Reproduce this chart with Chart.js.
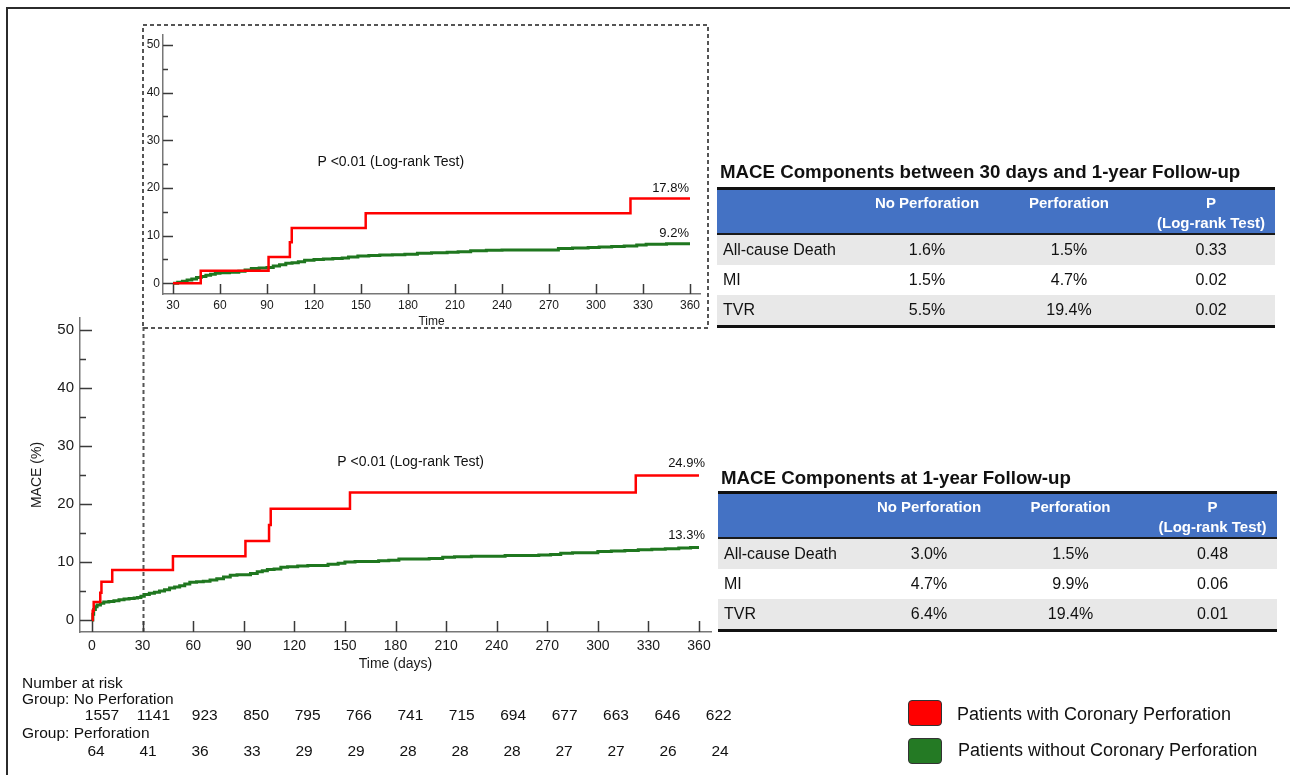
<!DOCTYPE html>
<html lang="en">
<head>
<meta charset="UTF-8">
<title>MACE: Coronary Perforation vs No Perforation</title>
<script src="https://cdn.jsdelivr.net/npm/chart.js"></script>
<style>
  body { margin: 0; background: #fff; font-family: "Liberation Sans", Arial, sans-serif; color: #111; }
  #page { position: relative; width: 1290px; height: 775px; overflow: hidden; }
  #frame { position: absolute; left: 6px; top: 7px; width: 1300px; height: 800px; border-top: 2px solid #2b2b2b; border-left: 2px solid #2b2b2b; }
  canvas { position: absolute; }
  #mainChart { left: 0; top: 300px; }
  #insetChart { left: 143px; top: 25px; }
  #box { position: absolute; left: 0; top: 0; pointer-events: none; }
  .ttl { position: absolute; font-weight: bold; font-size: 18.7px; line-height: 22px; white-space: nowrap; }
  table.mace { position: absolute; border-collapse: separate; border-spacing: 0; table-layout: fixed;
    border-top: 3px solid #111; border-bottom: 3px solid #111; font-size: 16px; }
  table.mace th { background: #4472C4; color: #fff; font-size: 15px; font-weight: bold; height: 40px; padding: 3px 0 0 0;
    vertical-align: top; line-height: 20px; border-bottom: 2px solid #1a1a1a; text-align: center; }
  table.mace td { height: 30px; padding: 0; text-align: center; line-height: 30px; }
  table.mace td:first-child { text-align: left; padding-left: 6px; }
  table.mace tr.g td { background: #E8E8E8; }
  .risk { position: absolute; font-size: 15.5px; line-height: 17px; white-space: nowrap; }
  .num { position: absolute; font-size: 15.5px; line-height: 17px; transform: translateX(-50%); }
  .lg-box { position: absolute; left: 908px; width: 32px; height: 24px; border: 1px solid #333; border-radius: 4px; }
  .lg-txt { position: absolute; font-size: 18px; line-height: 22px; white-space: nowrap; }
</style>
</head>
<body>
<div id="page">
  <div id="frame"></div>
  <canvas id="insetChart" width="565" height="303"></canvas>
  <canvas id="mainChart" width="730" height="380"></canvas>
  <svg id="box" width="1290" height="775">
    <rect x="143" y="25" width="565" height="303" fill="none" stroke="#555" stroke-width="2" stroke-dasharray="4 3"/>
  </svg>

  <div class="ttl" style="left:720px; top:161px;">MACE Components between 30 days and 1-year Follow-up</div>
  <table class="mace" id="tblLate" style="left:717px; top:187px;"></table>
  <div class="ttl" style="left:721px; top:467px;">MACE Components at 1-year Follow-up</div>
  <table class="mace" id="tblYear" style="left:718px; top:491px;"></table>

  <div id="riskTable"></div>

  <div class="lg-box" style="top:700px; background:#ff0000;"></div>
  <div class="lg-txt" style="left:957px; top:703px;">Patients with Coronary Perforation</div>
  <div class="lg-box" style="top:738px; background:#247a24;"></div>
  <div class="lg-txt" style="left:958px; top:739px;">Patients without Coronary Perforation</div>
</div>
<script>
  // axis ticks
  const xTicks = [0, 30, 60, 90, 120, 150, 180, 210, 240, 270, 300, 330, 360];
  const insetXTicks = [30, 60, 90, 120, 150, 180, 210, 240, 270, 300, 330, 360];
  const yTicks = [0, 10, 20, 30, 40, 50];
  const yMinorTicks = [5, 15, 25, 35, 45];

  // cumulative MACE (%) over 0-360 days
  const perfDays = [0, 0.4, 1, 4.9, 5.6, 12, 48, 91, 105, 106, 153, 322.5, 360];
  const perfMace = [0, 1.6, 3.1, 4.7, 6.6, 8.6, 11.0, 13.6, 16.4, 19.2, 22.0, 24.9, 24.9];
  const noPerfDays = [0, 0.5, 1, 2, 3, 5, 7, 10, 13, 16, 19, 22, 25, 27, 29, 31, 34, 37, 40, 43, 46, 49, 52, 55, 58,
    62, 66, 70, 74, 78, 82, 86, 90, 94, 98, 101, 104, 108, 112, 116, 122, 128, 134, 140, 146, 150, 156, 163, 170,
    176, 182, 190, 200, 208, 215, 225, 235, 245, 255, 265, 272, 278, 285, 292, 300, 308, 316, 324, 332, 340, 348, 355, 360];
  const noPerfMace = [0, 1.0, 1.8, 2.3, 2.6, 2.9, 3.1, 3.2, 3.3, 3.5, 3.6, 3.7, 3.8, 3.9, 4.1, 4.4, 4.6, 4.8, 5.0, 5.2, 5.5, 5.7, 5.9, 6.2, 6.5,
    6.6, 6.7, 6.9, 7.1, 7.4, 7.7, 7.8, 7.8, 8.0, 8.3, 8.5, 8.7, 8.8, 9.1, 9.2, 9.3, 9.4, 9.4, 9.6, 9.8, 10.0, 10.1, 10.1, 10.2,
    10.3, 10.5, 10.5, 10.6, 10.8, 10.9, 11.0, 11.0, 11.1, 11.1, 11.2, 11.3, 11.5, 11.6, 11.6, 11.8, 11.9, 12.0, 12.1, 12.2, 12.3, 12.4, 12.5, 12.5];
  const mainEndLabels = ['24.9%', '13.3%'];

  // landmark 30-360 days
  const lmPerfDays = [30, 47.7, 91, 104.6, 105.8, 153, 322, 360];
  const lmPerfMace = [0, 2.6, 5.5, 8.6, 11.6, 14.7, 17.8, 17.8];
  const lmNoPerfDays = [30, 33, 36, 39, 42, 45, 48, 51, 54, 57, 60, 66, 72, 76, 80, 85, 90, 94, 98, 102, 106, 110, 114, 120,
    126, 132, 138, 142, 148, 155, 162, 170, 178, 186, 195, 205, 212, 220, 230, 240, 250, 260, 270, 276, 285, 295, 302, 310,
    318, 326, 332, 345, 360];
  const lmNoPerfMace = [0, 0.2, 0.4, 0.7, 0.9, 1.2, 1.4, 1.7, 1.9, 2.1, 2.2, 2.3, 2.5, 2.8, 3.1, 3.2, 3.3, 3.6, 3.9, 4.2, 4.3, 4.5, 4.8, 5.0,
    5.1, 5.2, 5.3, 5.5, 5.7, 5.8, 5.9, 6.0, 6.1, 6.3, 6.4, 6.5, 6.6, 6.8, 6.9, 7.0, 7.0, 7.0, 7.0, 7.3, 7.4, 7.5, 7.6, 7.7,
    7.8, 8.0, 8.2, 8.3, 8.3];
  const insetEndLabels = ['17.8%', '9.2%'];

  // number at risk
  const riskNoPerf = [1557, 1141, 923, 850, 795, 766, 741, 715, 694, 677, 663, 646, 622];
  const riskPerf = [64, 41, 36, 33, 29, 29, 28, 28, 28, 27, 27, 26, 24];

  // tables
  const tableHeads = ['', 'No Perforation', 'Perforation', 'P<br>(Log-rank Test)'];
  const outcomes = ['All-cause Death', 'MI', 'TVR'];
  const lateNoPerf = ['1.6%', '1.5%', '5.5%'];
  const latePerf = ['1.5%', '4.7%', '19.4%'];
  const lateP = ['0.33', '0.02', '0.02'];
  const yearNoPerf = ['3.0%', '4.7%', '6.4%'];
  const yearPerf = ['1.5%', '9.9%', '19.4%'];
  const yearP = ['0.48', '0.06', '0.01'];

  const RED = '#ff0000', GREEN = '#1f771f';
  Chart.defaults.font.family = '"Liberation Sans", Arial, sans-serif';
  Chart.defaults.color = '#1a1a1a';

  const pts = (xs, ys) => xs.map((x, i) => ({ x, y: ys[i] }));

  // inward tick marks, dashed landmark line, text notes
  const kmDecor = {
    id: 'kmDecor',
    beforeDatasetsDraw(chart, args, o) {
      const { ctx, chartArea: a, scales: { x, y } } = chart;
      ctx.save();
      if (o.landmark !== undefined) {
        const px = Math.round(x.getPixelForValue(o.landmark)) + 0.5;
        ctx.strokeStyle = '#555'; ctx.lineWidth = 2; ctx.setLineDash([4, 3]);
        ctx.beginPath(); ctx.moveTo(px, a.top + 9); ctx.lineTo(px, a.bottom); ctx.stroke();
        ctx.setLineDash([]);
      }
      ctx.strokeStyle = '#3a3a3a'; ctx.lineWidth = 1.5;
      ctx.beginPath();
      o.xTicks.forEach(v => {
        const px = Math.round(x.getPixelForValue(v)) + 0.5;
        ctx.moveTo(px, a.bottom); ctx.lineTo(px, a.bottom - o.xLen);
      });
      yTicks.forEach(v => {
        const py = Math.round(y.getPixelForValue(v)) + 0.5;
        ctx.moveTo(a.left, py); ctx.lineTo(a.left + o.yLen, py);
      });
      yMinorTicks.forEach(v => {
        const py = Math.round(y.getPixelForValue(v)) + 0.5;
        ctx.moveTo(a.left, py); ctx.lineTo(a.left + o.yLen / 2, py);
      });
      ctx.stroke();
      ctx.restore();
    },
    afterDraw(chart, args, o) {
      const { ctx, scales: { x, y } } = chart;
      ctx.save();
      ctx.fillStyle = '#111';
      ctx.font = '14px "Liberation Sans", Arial, sans-serif';
      ctx.textAlign = 'center'; ctx.textBaseline = 'middle';
      ctx.fillText('P <0.01 (Log-rank Test)', x.getPixelForValue(o.pAt[0]), y.getPixelForValue(o.pAt[1]));
      ctx.font = '13px "Liberation Sans", Arial, sans-serif';
      ctx.textAlign = 'right';
      chart.data.datasets.forEach((ds, i) => {
        const last = ds.data[ds.data.length - 1];
        ctx.fillText(o.endLabels[i], x.getPixelForValue(last.x) + o.endDx, y.getPixelForValue(last.y) - o.endDy);
      });
      ctx.restore();
    }
  };

  function kmScales(cfg) {
    return {
      x: {
        type: 'linear', min: cfg.xMin, max: cfg.xMax,
        grid: { display: false, drawTicks: false },
        border: { display: true, color: '#777', width: 1.5 },
        afterBuildTicks: s => { s.ticks = cfg.xTicks.map(v => ({ value: v })); },
        afterFit: s => { s.height = cfg.xH; },
        ticks: { autoSkip: false, maxRotation: 0, padding: cfg.xPad, font: { size: cfg.tickSize } },
        title: cfg.xTitle
      },
      y: {
        type: 'linear', min: cfg.yMin, max: cfg.yMax,
        grid: { display: false, drawTicks: false },
        border: { display: true, color: '#777', width: 1.5 },
        afterBuildTicks: s => { s.ticks = yTicks.map(v => ({ value: v })); },
        afterFit: s => { s.width = cfg.yW; },
        ticks: { padding: cfg.yPad, font: { size: cfg.yTickSize } },
        title: cfg.yTitle || { display: false }
      }
    };
  }

  function kmDatasets(rd, rv, gd, gv) {
    return [
      { label: 'Patients with Coronary Perforation', data: pts(rd, rv), borderColor: RED, borderWidth: 2.5, stepped: true, pointRadius: 0 },
      { label: 'Patients without Coronary Perforation', data: pts(gd, gv), borderColor: GREEN, borderWidth: 3, stepped: true, pointRadius: 0 }
    ];
  }

  new Chart(document.getElementById('mainChart'), {
    type: 'line',
    data: { datasets: kmDatasets(perfDays, perfMace, noPerfDays, noPerfMace) },
    plugins: [kmDecor],
    options: {
      responsive: false, animation: false,
      layout: { padding: { left: 0, top: 18, right: 19, bottom: 0 } },
      plugins: {
        legend: { display: false }, tooltip: { enabled: false },
        kmDecor: { xTicks: xTicks, xLen: 11, yLen: 12, landmark: 30, pAt: [189, 27.2], endLabels: mainEndLabels, endDx: 6, endDy: 12 }
      },
      scales: kmScales({
        xMin: -7.12, xMax: 367.12, yMin: -2.07, yMax: 52.07, xTicks: xTicks, xH: 48, yW: 80,
        xPad: 6, yPad: 6, tickSize: 14, yTickSize: 15,
        xTitle: { display: true, text: 'Time (days)', font: { size: 14 }, padding: { top: 0, bottom: 7 } },
        yTitle: { display: true, text: 'MACE (%)', font: { size: 14 }, padding: { top: 29, bottom: 0 } }
      })
    }
  });

  new Chart(document.getElementById('insetChart'), {
    type: 'line',
    data: { datasets: kmDatasets(lmPerfDays, lmPerfMace, lmNoPerfDays, lmNoPerfMace) },
    plugins: [kmDecor],
    options: {
      responsive: false, animation: false,
      layout: { padding: { left: 0, top: 5, right: 8, bottom: 0 } },
      plugins: {
        legend: { display: false }, tooltip: { enabled: false },
        kmDecor: { xTicks: insetXTicks, xLen: 10, yLen: 10, pAt: [169, 25.5], endLabels: insetEndLabels, endDx: -1, endDy: 10 }
      },
      scales: kmScales({
        xMin: 23.62, xMax: 366.38, yMin: -2.26, yMax: 52.06, xTicks: insetXTicks, xH: 34, yW: 20,
        xPad: 4, yPad: 3, tickSize: 12, yTickSize: 12,
        xTitle: { display: true, text: 'Time', font: { size: 12, lineHeight: 1 }, padding: { top: 0, bottom: 0 } }
      })
    }
  });

  // MACE component tables
  function buildTable(id, widths, noPerf, perf, p) {
    const t = document.getElementById(id);
    let html = '<colgroup>' + widths.map(w => `<col style="width:${w}px">`).join('') + '</colgroup>';
    html += '<tr>' + tableHeads.map(h => `<th>${h}</th>`).join('') + '</tr>';
    outcomes.forEach((o, i) => {
      html += `<tr class="${i % 2 === 0 ? 'g' : ''}"><td>${o}</td><td>${noPerf[i]}</td><td>${perf[i]}</td><td>${p[i]}</td></tr>`;
    });
    t.innerHTML = html;
    t.style.width = widths.reduce((a, b) => a + b, 0) + 'px';
  }
  buildTable('tblLate', [146, 128, 156, 128], lateNoPerf, latePerf, lateP);
  buildTable('tblYear', [147, 128, 155, 129], yearNoPerf, yearPerf, yearP);

  // number-at-risk table under the main chart
  const risk = document.getElementById('riskTable');
  const line = (txt, top, left) => `<div class="risk" style="left:${left}px; top:${top}px;">${txt}</div>`;
  let rhtml = line('Number at risk', 674, 22) + line('Group: No Perforation', 690, 22) + line('Group: Perforation', 724, 22);
  riskNoPerf.forEach((n, i) => { rhtml += `<div class="num" style="left:${102 + 51.4 * i}px; top:706px;">${n}</div>`; });
  riskPerf.forEach((n, i) => { rhtml += `<div class="num" style="left:${96 + 52 * i}px; top:742px;">${n}</div>`; });
  risk.innerHTML = rhtml;
</script>
</body>
</html>
